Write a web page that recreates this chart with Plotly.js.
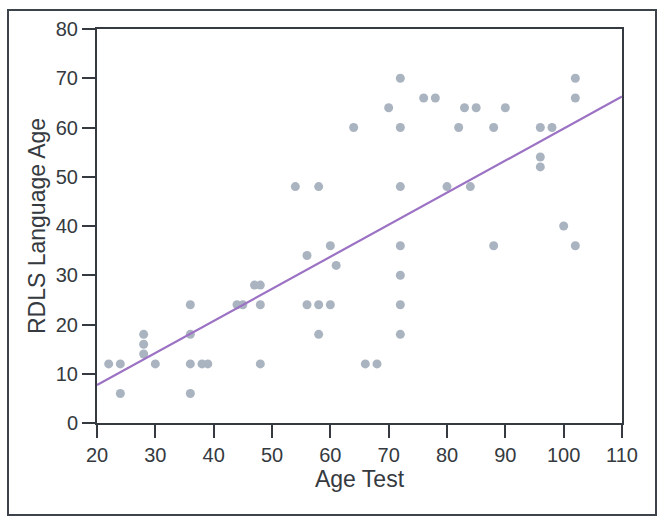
<!DOCTYPE html>
<html>
<head>
<meta charset="utf-8">
<script src="https://cdn.plot.ly/plotly-3.0.1.min.js"></script>
<style>
  html, body { margin: 0; padding: 0; background: #fff; }
  #wrap { position: relative; width: 664px; height: 524px; }
  #plot { width: 664px; height: 524px; }
  #frame { position: absolute; left: 7px; top: 9px; width: 650px; height: 507px;
           box-sizing: border-box; border: 2.5px solid #3d434a; pointer-events: none; }
</style>
</head>
<body>
<div id="wrap">
  <div id="plot"></div>
  <div id="frame"></div>
</div>
<script>
// Age Test (x) and RDLS Language Age (y) for each child
const ageTest = [22, 24, 24, 28, 28, 28, 30, 36, 36, 36, 36, 38, 39, 44, 45, 47, 48, 48, 48,
                 54, 56, 56, 58, 58, 58, 60, 60, 61, 64, 66, 68, 70,
                 72, 72, 72, 72, 72, 72, 72, 76, 78, 80, 82, 83, 84, 85, 88, 88, 90,
                 96, 96, 96, 98, 100, 102, 102, 102];
const rdlsAge = [12, 12, 6, 18, 16, 14, 12, 24, 18, 12, 6, 12, 12, 24, 24, 28, 28, 24, 12,
                 48, 34, 24, 48, 24, 18, 36, 24, 32, 60, 12, 12, 64,
                 70, 60, 48, 36, 30, 24, 18, 66, 66, 48, 60, 64, 48, 64, 60, 36, 64,
                 60, 54, 52, 60, 40, 70, 66, 36];

// Fitted regression line endpoints
const fitX = [20, 110];
const fitY = [7.7, 66.3];

// Axis tick values
const xTicks = [20, 30, 40, 50, 60, 70, 80, 90, 100, 110];
const yTicks = [0, 10, 20, 30, 40, 50, 60, 70, 80];

const font = 'Liberation Sans, Arial, Helvetica, sans-serif';
const ink = '#353a40';

const traces = [
  {
    x: ageTest, y: rdlsAge, type: 'scatter', mode: 'markers',
    marker: { color: '#aab4c0', size: 9 },
    hoverinfo: 'x+y', showlegend: false
  },
  {
    x: fitX, y: fitY, type: 'scatter', mode: 'lines',
    line: { color: '#9c72c4', width: 2.2 },
    showlegend: false
  }
];

const axisCommon = {
  showgrid: false, zeroline: false,
  showline: true, linecolor: ink, linewidth: 2, mirror: true,
  ticks: 'outside', ticklen: 13, tickwidth: 2, tickcolor: ink,
  tickfont: { family: font, size: 20, color: ink }
};

const layout = {
  width: 664, height: 524,
  margin: { l: 97, r: 42, t: 29, b: 101 },
  paper_bgcolor: '#ffffff', plot_bgcolor: '#ffffff',
  xaxis: Object.assign({}, axisCommon, {
    range: [20, 110], tickvals: xTicks, ticktext: xTicks.map(String),
    title: { text: 'Age Test', font: { family: font, size: 23, color: ink }, standoff: 5 }
  }),
  yaxis: Object.assign({}, axisCommon, {
    range: [0, 80], tickvals: yTicks, ticktext: yTicks.map(String),
    title: { text: 'RDLS Language Age', font: { family: font, size: 23, color: ink }, standoff: 4 }
  })
};

Plotly.newPlot('plot', traces, layout, { displayModeBar: false, staticPlot: true });
</script>
</body>
</html>
